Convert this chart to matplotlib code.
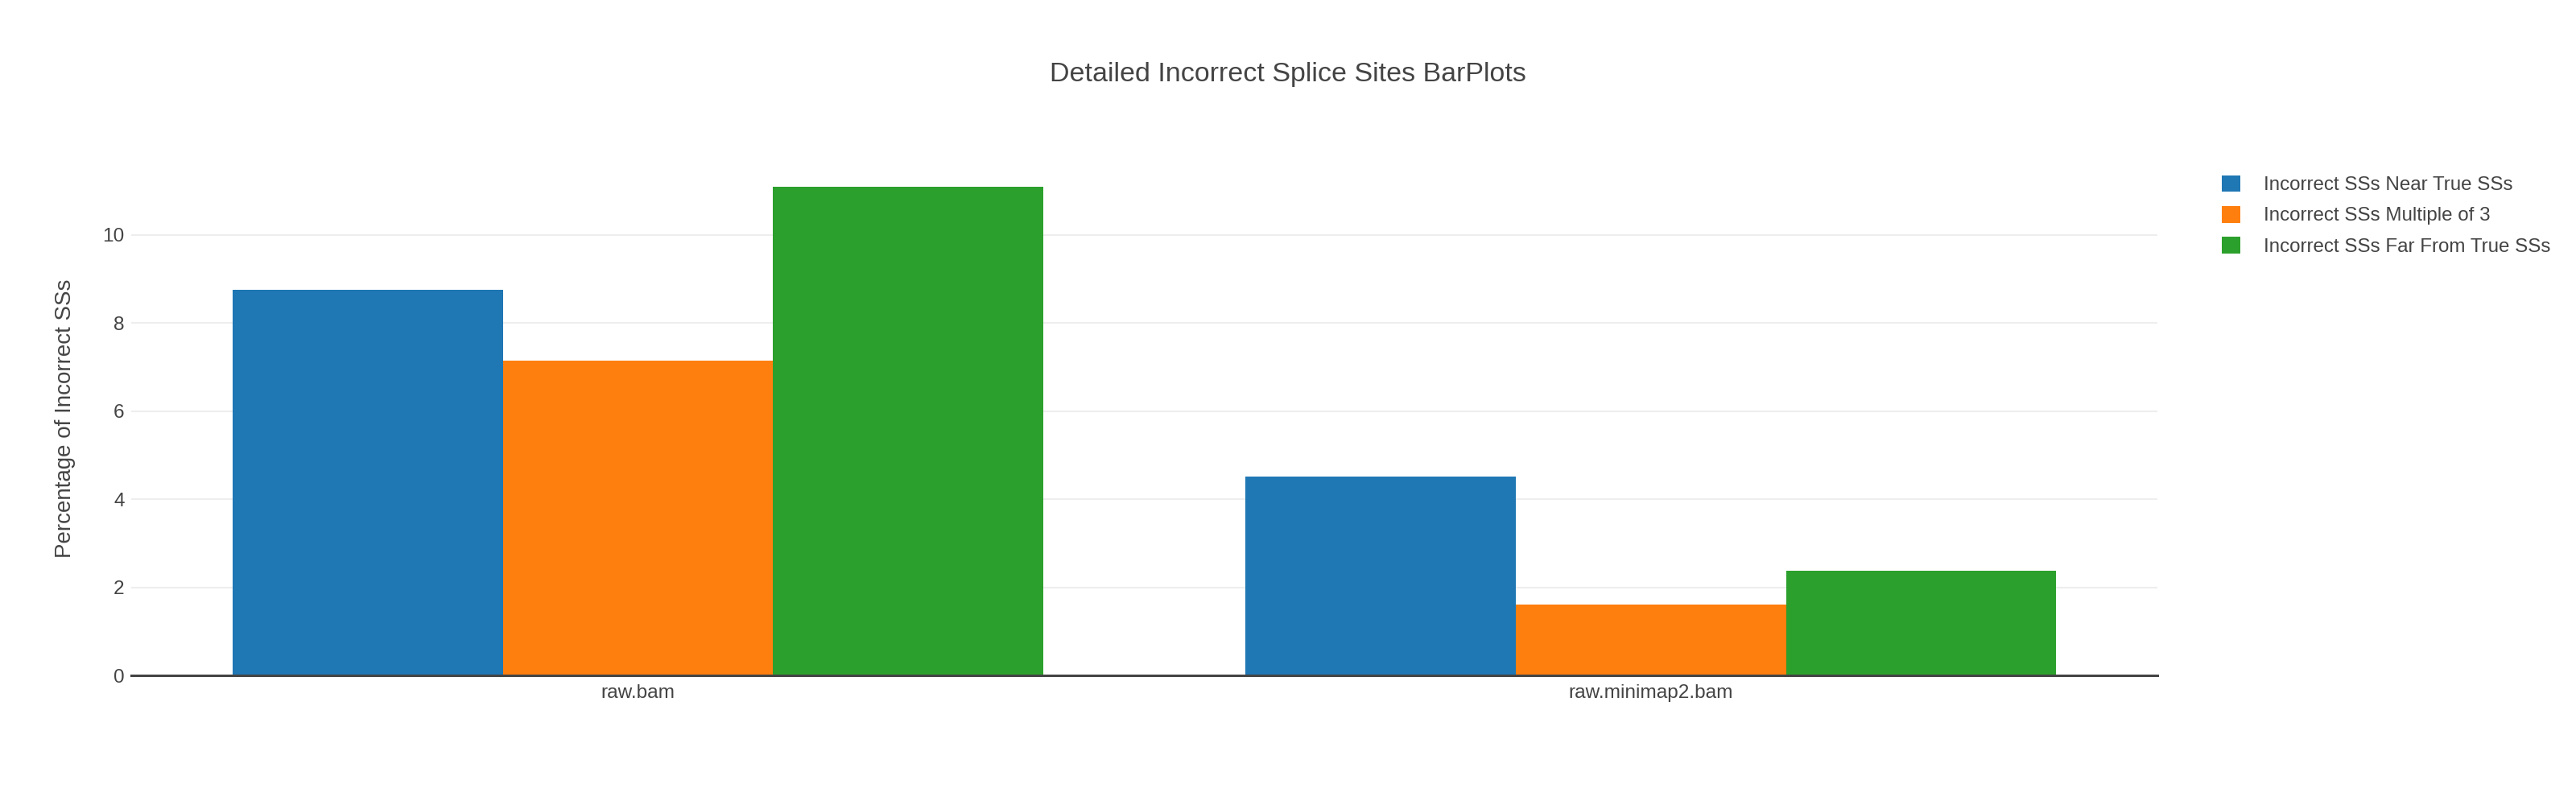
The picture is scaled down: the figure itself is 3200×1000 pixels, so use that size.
import matplotlib
matplotlib.use("Agg")
import matplotlib.pyplot as plt
import numpy as np

# data
samples = ['raw.bam', 'raw.minimap2.bam']
series = ['Incorrect SSs Near True SSs', 'Incorrect SSs Multiple of 3', 'Incorrect SSs Far From True SSs']
near_true = [8.76, 4.51]
multiple_of_3 = [7.14, 1.61]
far_from_true = [11.10, 2.38]
colors = ['#1f77b4', '#ff7f0e', '#2ca02c']

plt.rcParams['font.family'] = ['Liberation Sans Narrow', 'Liberation Sans', 'DejaVu Sans']
txt = '#444444'

fig = plt.figure(figsize=(32, 10), dpi=100)
ax = fig.add_axes([0.051, 0.161, 0.7865, 0.639])

x = np.arange(len(samples))
w = 0.8 / 3
handles = []
for k, (vals, c) in enumerate(zip([near_true, multiple_of_3, far_from_true], colors)):
    h = ax.bar(x + (k - 1) * w, vals, width=w, color=c, label=series[k], zorder=3)
    handles.append(h)

ax.set_xlim(-0.5, 1.5)
ax.set_ylim(0, 11.68)
ax.set_yticks([0, 2, 4, 6, 8, 10])
ax.set_xticks(x)
ax.set_xticklabels(samples)
ax.grid(axis='y', color='#eeeeee', linewidth=1.5, zorder=0)
for s in ['top', 'right', 'left']:
    ax.spines[s].set_visible(False)
ax.spines['bottom'].set_color(txt)
ax.spines['bottom'].set_linewidth(2.2)
ax.spines['bottom'].set_zorder(4)
ax.tick_params(axis='both', length=0, labelsize=17.6, colors=txt)
ax.tick_params(axis='y', pad=6)
ax.tick_params(axis='x', pad=8)
ax.set_ylabel('Percentage of Incorrect SSs', fontsize=20, color=txt,
              family=['Liberation Sans', 'DejaVu Sans'], labelpad=24)

fig.text(0.5, 0.908, 'Detailed Incorrect Splice Sites BarPlots', ha='center', va='center',
         fontsize=24.5, color=txt)

leg = fig.legend(handles=handles, labels=series, loc='upper left',
                 bbox_to_anchor=(0.8595, 0.792), frameon=False,
                 prop={'family': ['Liberation Sans', 'DejaVu Sans'], 'size': 17.4},
                 handlelength=0.94, handleheight=0.94, handletextpad=1.2,
                 labelspacing=0.6, borderaxespad=0)
for t in leg.get_texts():
    t.set_color(txt)

fig.savefig('out.png', dpi=100, facecolor='white')
